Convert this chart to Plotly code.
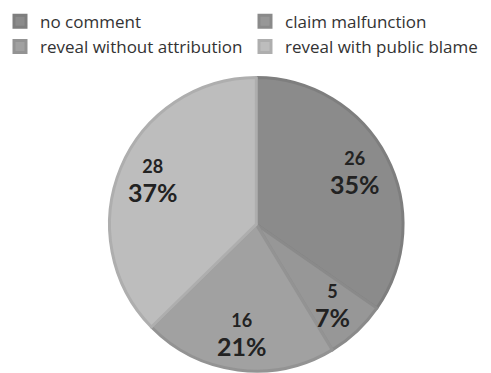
import math
import plotly.graph_objects as go

labels = ["no comment", "claim malfunction", "reveal without attribution", "reveal with public blame"]
values = [26, 5, 16, 28]
slice_colors = ["#8b8b8b", "#979797", "#a1a1a1", "#bdbdbd"]
border_colors = ["#7e7e7e", "#8a8a8a", "#939393", "#aeaeae"]

W, H = 491, 373
dom_x = [0.222, 0.822]
dom_y = [0.005, 0.792]

fig = go.Figure(go.Pie(
    labels=labels,
    values=values,
    sort=False,
    direction="clockwise",
    rotation=0,
    marker=dict(colors=slice_colors, line=dict(color=border_colors, width=3)),
    textinfo="none",
    domain=dict(x=dom_x, y=dom_y),
    hoverinfo="label+value+percent",
))

# data labels placed along each slice's mid-angle (derived from the values)
total = sum(values)
cx = (dom_x[0] + dom_x[1]) / 2 * W
cy = (dom_y[0] + dom_y[1]) / 2 * H
R = min((dom_x[1] - dom_x[0]) * W, (dom_y[1] - dom_y[0]) * H) / 2
cum = 0
for v in values:
    mid = (cum + v / 2) / total * 2 * math.pi
    cum += v
    px = cx + 0.76 * R * math.sin(mid)
    py = cy + 0.76 * R * math.cos(mid)
    fig.add_annotation(
        x=px / W, y=py / H, xref="paper", yref="paper",
        xanchor="center", yanchor="middle",
        showarrow=False,
        text=f"<span style='font-size:18px'>{v}</span><br><span style='font-size:25px'>{round(100 * v / total)}%</span>",
        font=dict(family="Lato", color="#222222", size=22, weight="bold"),
        align="center",
    )

fig.update_layout(
    width=W, height=H,
    margin=dict(l=0, r=0, t=0, b=0),
    paper_bgcolor="white",
    plot_bgcolor="white",
    legend=dict(
        orientation="h",
        x=0.0, y=0.99, xanchor="left", yanchor="top",
        entrywidth=200, entrywidthmode="pixels",
        font=dict(family="Open Sans", size=17, color="#333333"),
        bgcolor="rgba(0,0,0,0)",
        traceorder="normal",
    ),
)

fig.write_html("out.html")
